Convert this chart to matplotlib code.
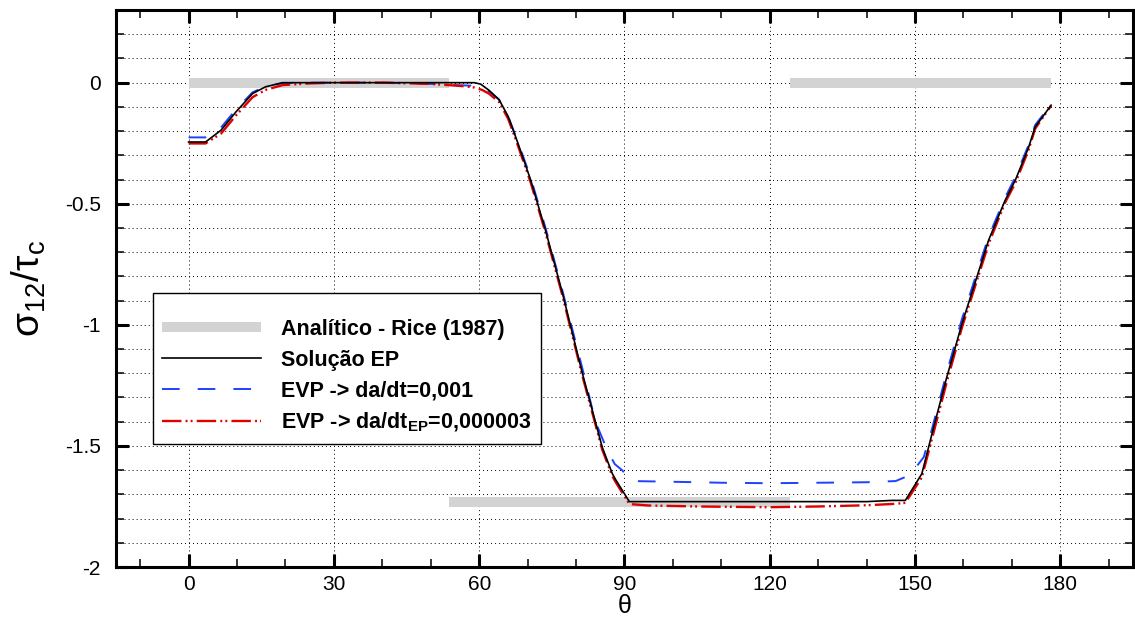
import numpy as np
import matplotlib
matplotlib.use("Agg")
import matplotlib.pyplot as plt
from matplotlib.ticker import MultipleLocator, FixedLocator

plt.rcParams['font.family'] = ['Liberation Sans', 'DejaVu Sans']
plt.rcParams['lines.scale_dashes'] = False

# Analytical solution (Rice, 1987): piecewise-constant sectors
rice_start = [0.0, 53.8, 124.2]
rice_end = [53.8, 124.2, 178.0]
rice_value = [0.0, -1.732, 0.0]

# Elastoplastic solution
theta_ep = [0, 3.5, 6.7, 9.8, 13.2, 15.9, 19.4, 25, 30, 40, 50, 55, 59, 60.3, 62,
            64.1, 66, 68, 70.6, 73.7, 77.2, 81.3, 85.4, 87.5, 88.2, 91, 100, 110,
            120, 130, 140, 145.2, 148, 151.4, 153.5, 156.5, 159.7, 165.2, 168.6,
            170.7, 173.4, 174.8, 178.1]
sig_ep = [-0.245, -0.245, -0.196, -0.12, -0.045, -0.017, 0.0, 0.0, 0.0, 0.0, 0.0,
          0.0, 0.0, -0.006, -0.031, -0.07, -0.14, -0.25, -0.40, -0.61, -0.87,
          -1.20, -1.505, -1.615, -1.64, -1.73, -1.73, -1.73, -1.73, -1.73, -1.73,
          -1.725, -1.725, -1.615, -1.45, -1.22, -0.995, -0.65, -0.486, -0.403,
          -0.27, -0.183, -0.093]

# Elasto-viscoplastic solution, da/dt = 0.001
theta_evp1 = [0, 3.5, 5, 6.7, 9.8, 13.2, 15.9, 19.4, 25, 30, 40, 50, 55, 58, 60.3,
              62, 64.1, 66, 68, 70.6, 73.7, 77.2, 81.3, 84, 86.5, 88, 89.5, 91.5,
              100, 110, 120, 130, 140, 146, 149, 150.5, 151.8, 153.5, 156.5, 159.7,
              165.2, 168.6, 170.7, 173.4, 174.8, 178.1]
sig_evp1 = [-0.226, -0.226, -0.215, -0.185, -0.11, -0.04, -0.015, -0.002, 0.0, 0.0,
            0.0, -0.005, -0.01, -0.012, -0.012, -0.035, -0.07, -0.14, -0.245, -0.39,
            -0.60, -0.86, -1.18, -1.40, -1.52, -1.575, -1.60, -1.645, -1.648,
            -1.652, -1.654, -1.652, -1.65, -1.645, -1.62, -1.58, -1.546, -1.43,
            -1.20, -0.975, -0.635, -0.475, -0.39, -0.26, -0.175, -0.09]

# Elasto-viscoplastic solution, da/dt_EP = 0.000003
theta_evp2 = [0, 3.5, 6.7, 9.8, 13.2, 15.9, 19.4, 25, 30, 40, 50, 55, 57, 59, 60.6,
              62, 64.1, 66, 68, 70.6, 73.7, 77.2, 81.3, 85.4, 87.5, 88.2, 91, 95,
              105, 115, 120, 130, 140, 146, 148, 151.4, 153.5, 156.5, 159.7, 165.2,
              168.6, 170.7, 173.4, 174.8, 178.1]
sig_evp2 = [-0.251, -0.251, -0.21, -0.135, -0.06, -0.03, -0.01, -0.003, 0.0, 0.0,
            -0.005, -0.012, -0.015, -0.02, -0.03, -0.045, -0.08, -0.15, -0.26,
            -0.41, -0.62, -0.88, -1.21, -1.515, -1.625, -1.65, -1.74, -1.746,
            -1.75, -1.752, -1.753, -1.75, -1.745, -1.739, -1.735, -1.63, -1.47,
            -1.24, -1.01, -0.665, -0.495, -0.415, -0.28, -0.19, -0.095]

x_major = [0, 30, 60, 90, 120, 150, 180]
y_major = [0, -0.5, -1, -1.5, -2]
y_labels = ['0', '-0.5', '-1', '-1.5', '-2']

fig = plt.figure(figsize=(11.35, 6.18), dpi=100)
ax = fig.add_axes([0.1022, 0.0825, 0.8960, 0.9013])

rice = ax.hlines(rice_value, rice_start, rice_end, colors='#d3d3d3',
                 linewidth=7.2, zorder=2, label='Analítico - Rice (1987)')
l_b, = ax.plot(theta_evp1, sig_evp1, color='#2040ff', linewidth=1.4,
               dashes=(12.7, 13.0), zorder=3, label='EVP -> da/dt=0,001')
l_r, = ax.plot(theta_evp2, sig_evp2, color='#e00000', linewidth=1.7,
               dashes=(14.0, 3.0, 1.4, 2.2, 1.4, 3.0), zorder=4,
               label=r'EVP -> da/dt$_{\mathregular{EP}}$=0,000003')
l_k, = ax.plot(theta_ep, sig_ep, color='black', linewidth=1.2, zorder=5,
               label='Solução EP')

ax.set_xlim(-15, 195)
ax.set_ylim(-2.0, 0.3)

ax.xaxis.set_major_locator(FixedLocator(x_major))
ax.xaxis.set_minor_locator(MultipleLocator(10))
ax.set_xticklabels([str(v) for v in x_major])
ax.yaxis.set_major_locator(FixedLocator(y_major))
ax.set_yticklabels(y_labels)
ax.yaxis.set_minor_locator(MultipleLocator(0.1))

ax.tick_params(which='both', direction='in', top=True, right=True,
               labelsize=15, colors='black')
ax.tick_params(which='major', length=9.4, width=2.2)
ax.tick_params(which='minor', length=5.8, width=1.1)
ax.tick_params(axis='x', which='major', pad=6)
ax.tick_params(axis='y', which='major', pad=11)

for s in ax.spines.values():
    s.set_linewidth(2.2)

grid_kw = dict(color='black', linewidth=0.7, dashes=(0.7, 2.2))
ax.grid(True, axis='x', which='major', **grid_kw)
ax.grid(True, axis='y', which='minor', **grid_kw)
ax.grid(True, axis='y', which='major', **grid_kw)
ax.set_axisbelow(True)

ax.set_xlabel('θ', fontsize=18, labelpad=0)
ax.set_ylabel(r'$\mathregular{\sigma_{12}/\tau_c}$', fontsize=28, labelpad=12)

leg = ax.legend(handles=[rice, l_k, l_b, l_r], loc='lower left',
                bbox_to_anchor=(0.036, 0.221), borderaxespad=0,
                prop={'weight': 'bold', 'size': 15.5}, handlelength=4.6,
                handletextpad=0.9, labelspacing=0.45, borderpad=0.45,
                title=' ', title_fontsize=5,
                fancybox=False, framealpha=1, edgecolor='black')
leg.get_frame().set_linewidth(1.0)

fig.savefig('out.png', dpi=100, facecolor='white')
